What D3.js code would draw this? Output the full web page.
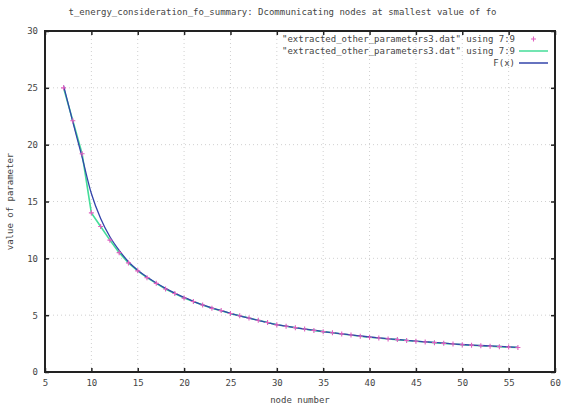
<!DOCTYPE html>
<html>
<head>
<meta charset="utf-8">
<script src="https://cdn.jsdelivr.net/npm/d3@7"></script>
<style>
  html, body { margin: 0; padding: 0; background: #fff; }
  svg text { font-family: "DejaVu Sans Mono", "Liberation Mono", monospace; fill: #444; }
</style>
</head>
<body>
<svg id="chart" width="565" height="410"></svg>
<script>
// ---- data ----
const titleText = "t_energy_consideration_fo_summary: Dcommunicating nodes at smallest value of fo";
const xLabel = "node number";
const yLabel = "value of parameter";
const xTicks = [5, 10, 15, 20, 25, 30, 35, 40, 45, 50, 55, 60];
const yTicks = [0, 5, 10, 15, 20, 25, 30];
const legendLabels = [
  "\"extracted_other_parameters3.dat\" using 7:9",
  "\"extracted_other_parameters3.dat\" using 7:9",
  "F(x)"
];
const nodes = [7, 8, 9, 10, 11, 12, 13, 14, 15, 16, 17, 18, 19, 20, 21, 22, 23, 24, 25, 26,
  27, 28, 29, 30, 31, 32, 33, 34, 35, 36, 37, 38, 39, 40, 41, 42, 43, 44, 45, 46,
  47, 48, 49, 50, 51, 52, 53, 54, 55, 56];
const paramValues = [25.0, 22.1, 19.2, 14.0, 12.8, 11.6, 10.5, 9.6, 8.9, 8.3, 7.8, 7.3, 6.9, 6.5, 6.2, 5.9, 5.6, 5.4, 5.15, 4.95,
  4.75, 4.55, 4.35, 4.15, 4.02, 3.9, 3.78, 3.66, 3.55, 3.45, 3.35, 3.25, 3.15, 3.06, 2.99, 2.91, 2.85, 2.77, 2.7, 2.64,
  2.58, 2.52, 2.46, 2.4, 2.36, 2.31, 2.27, 2.23, 2.19, 2.15];
const fitValues = [25.2, 22.0, 18.9, 15.7, 13.5, 11.9, 10.7, 9.7, 8.95, 8.35, 7.83, 7.36, 6.94, 6.56, 6.22, 5.91, 5.64, 5.39, 5.16, 4.94,
  4.74, 4.54, 4.35, 4.17, 4.03, 3.9, 3.78, 3.67, 3.56, 3.46, 3.36, 3.26, 3.17, 3.08, 3.0, 2.93, 2.86, 2.79, 2.72, 2.66,
  2.6, 2.54, 2.48, 2.42, 2.37, 2.33, 2.29, 2.25, 2.21, 2.17];

// ---- layout ----
const W = 565, H = 410;
const margin = { left: 45, right: 10, top: 31, bottom: 38 };
const svg = d3.select("#chart");
const x = d3.scaleLinear().domain([5, 60]).range([margin.left, W - margin.right]);
const y = d3.scaleLinear().domain([0, 30]).range([H - margin.bottom, margin.top]);
const fs = "9px";

// grid
const grid = svg.append("g");
grid.selectAll("line.gx").data(xTicks.slice(1, -1)).join("line")
  .attr("x1", d => x(d)).attr("x2", d => x(d))
  .attr("y1", y(0)).attr("y2", y(30))
  .attr("stroke", "#d0d0d0").attr("stroke-width", 1).attr("stroke-dasharray", "1,3");
grid.selectAll("line.gy").data(yTicks.slice(1, -1)).join("line")
  .attr("y1", d => y(d)).attr("y2", d => y(d))
  .attr("x1", x(5)).attr("x2", x(60))
  .attr("stroke", "#d0d0d0").attr("stroke-width", 1).attr("stroke-dasharray", "1,3");

// axes (inward ticks + mirror)
const tickLen = 4;
const xAxisB = d3.axisBottom(x).tickValues(xTicks).tickSize(-tickLen).tickPadding(8).tickFormat(d3.format("d"));
const xAxisT = d3.axisTop(x).tickValues(xTicks).tickSize(-tickLen).tickFormat("");
const yAxisL = d3.axisLeft(y).tickValues(yTicks).tickSize(-tickLen).tickPadding(7).tickFormat(d3.format("d"));
const yAxisR = d3.axisRight(y).tickValues(yTicks).tickSize(-tickLen).tickFormat("");
function styleAxis(g) {
  g.select(".domain").remove();
  g.selectAll(".tick line").attr("stroke", "#222").attr("stroke-width", 1.5);
  g.selectAll(".tick text").style("font-size", fs).style("font-family", "DejaVu Sans Mono, monospace").attr("fill", "#444");
}
svg.append("g").attr("transform", `translate(0,${y(0)})`).call(xAxisB).call(styleAxis);
svg.append("g").attr("transform", `translate(0,${y(30)})`).call(xAxisT).call(styleAxis);
svg.append("g").attr("transform", `translate(${x(5)},0)`).call(yAxisL).call(styleAxis);
svg.append("g").attr("transform", `translate(${x(60)},0)`).call(yAxisR).call(styleAxis);

// frame
svg.append("rect")
  .attr("x", x(5)).attr("y", y(30))
  .attr("width", x(60) - x(5)).attr("height", y(0) - y(30))
  .attr("fill", "none").attr("stroke", "#222").attr("stroke-width", 2);

// series
const dataLine = d3.line().x((d, i) => x(nodes[i])).y(d => y(d));
svg.append("path").datum(paramValues)
  .attr("d", dataLine).attr("fill", "none")
  .attr("stroke", "#44dd99").attr("stroke-width", 1.6);
const fitLine = d3.line().x((d, i) => x(nodes[i])).y(d => y(d)).curve(d3.curveMonotoneX);
svg.append("path").datum(fitValues)
  .attr("d", fitLine).attr("fill", "none")
  .attr("stroke", "#3344aa").attr("stroke-width", 1.3);

// points "+"
const ps = 2.5;
const pts = svg.append("g");
paramValues.forEach((v, i) => {
  const cx = x(nodes[i]), cy = y(v);
  pts.append("path")
    .attr("d", `M${cx - ps},${cy}H${cx + ps}M${cx},${cy - ps}V${cy + ps}`)
    .attr("stroke", "#e060c0").attr("stroke-width", 1.1);
});

// legend
const legX = 515, legY0 = 39, legDY = 12, sampleX1 = 519, sampleX2 = 548;
const leg = svg.append("g");
legendLabels.forEach((lab, i) => {
  const ly = legY0 + i * legDY;
  leg.append("text").attr("x", legX).attr("y", ly).attr("dy", "0.35em")
    .attr("text-anchor", "end").style("font-size", fs).text(lab);
});
const sx = (sampleX1 + sampleX2) / 2;
leg.append("path")
  .attr("d", `M${sx - ps},${legY0}H${sx + ps}M${sx},${legY0 - ps}V${legY0 + ps}`)
  .attr("stroke", "#e060c0").attr("stroke-width", 1.1);
leg.append("line").attr("x1", sampleX1).attr("x2", sampleX2)
  .attr("y1", legY0 + legDY).attr("y2", legY0 + legDY)
  .attr("stroke", "#44dd99").attr("stroke-width", 1.5);
leg.append("line").attr("x1", sampleX1).attr("x2", sampleX2)
  .attr("y1", legY0 + 2 * legDY).attr("y2", legY0 + 2 * legDY)
  .attr("stroke", "#3344aa").attr("stroke-width", 1.5);

// title and axis labels
svg.append("text").attr("x", W / 2).attr("y", 15)
  .attr("text-anchor", "middle").style("font-size", fs).text(titleText);
svg.append("text").attr("x", (x(5) + x(60)) / 2).attr("y", 403)
  .attr("text-anchor", "middle").style("font-size", fs).text(xLabel);
svg.append("text")
  .attr("transform", `translate(13,${(y(0) + y(30)) / 2}) rotate(-90)`)
  .attr("text-anchor", "middle").style("font-size", fs).text(yLabel);
</script>
</body>
</html>
